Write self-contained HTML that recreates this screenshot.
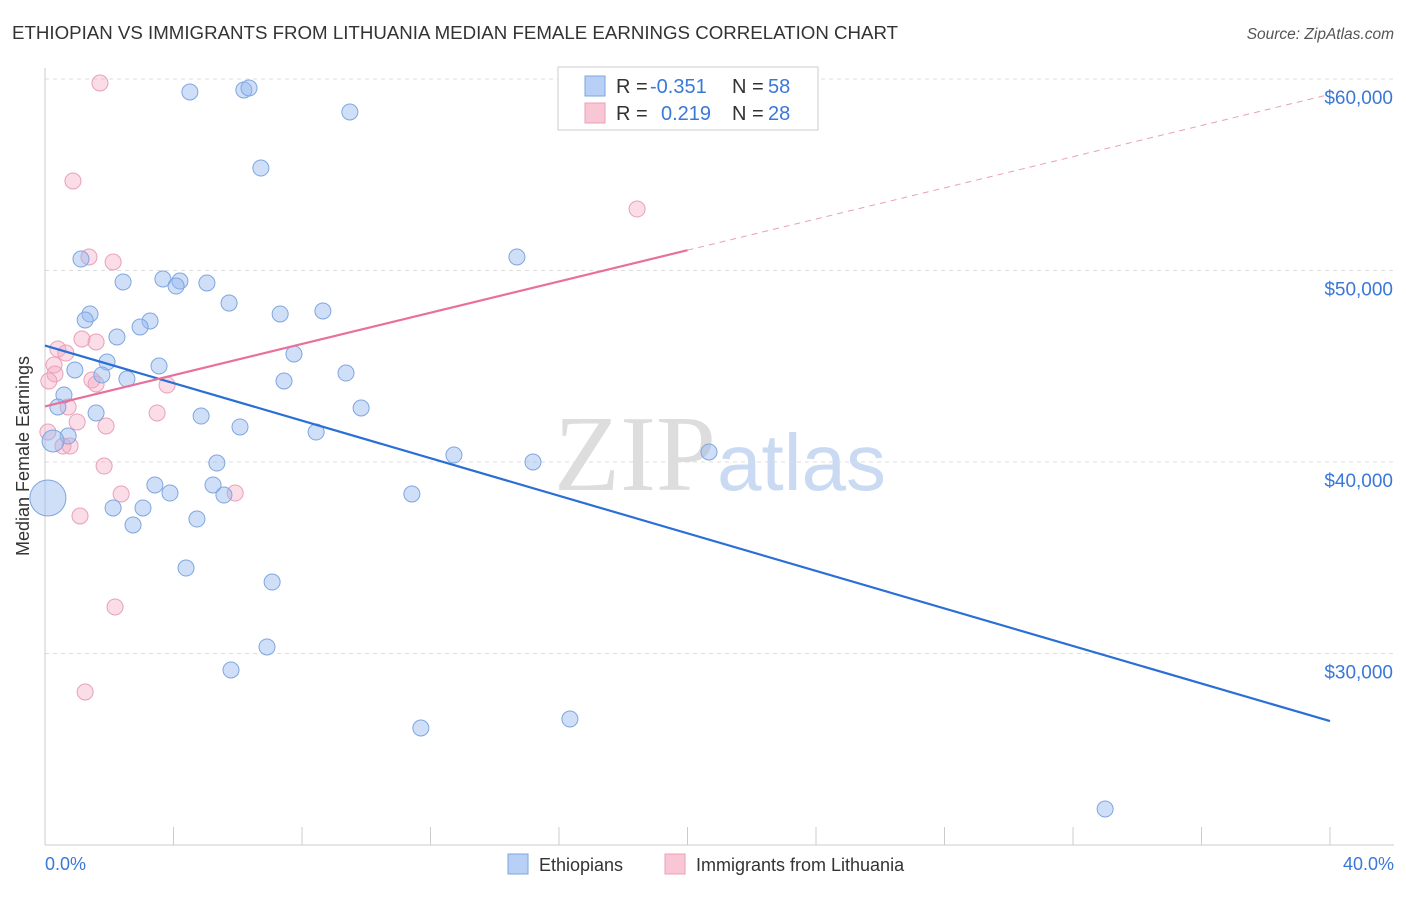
<!DOCTYPE html>
<html><head><meta charset="utf-8"><style>
body{margin:0;background:#fff;font-family:"Liberation Sans",sans-serif;}
</style></head><body>
<svg width="1406" height="892" xmlns="http://www.w3.org/2000/svg" font-family="Liberation Sans, sans-serif">
<text x="12" y="39" font-size="18.7" fill="#333">ETHIOPIAN VS IMMIGRANTS FROM LITHUANIA MEDIAN FEMALE EARNINGS CORRELATION CHART</text>
<text x="1394" y="39" font-size="15.5" fill="#555" font-style="italic" text-anchor="end">Source: ZipAtlas.com</text>
<text x="716" y="490" font-size="108" fill="#ddd" text-anchor="end" font-family="Liberation Serif, serif">ZIP</text>
<text x="717" y="490" font-size="80" fill="#c9daf2">atlas</text>
<g id="grid"></g>
<line x1="45" y1="68" x2="45" y2="845" stroke="#ccc"/>
<line x1="45" y1="845" x2="1394" y2="845" stroke="#ccc"/>
<text x="29" y="456" font-size="18" fill="#333" text-anchor="middle" transform="rotate(-90 29 456)">Median Female Earnings</text>
<text x="45" y="870" font-size="18" fill="#3a78d8">0.0%</text>
<text x="1394" y="870" font-size="18" fill="#3a78d8" text-anchor="end">40.0%</text>
<g id="pts"></g>
<g id="lines"></g>
<g>
<rect x="558" y="67" width="260" height="63" fill="#fff" stroke="#ccc"/>
<rect x="585" y="76" width="20" height="20" fill="#b8d0f5" stroke="#7ea6e0"/>
<rect x="585" y="103" width="20" height="20" fill="#f9c6d6" stroke="#e9a0b8"/>
<text x="616" y="93" font-size="20" fill="#333">R =</text>
<text x="650" y="93" font-size="20" fill="#3a78d8">-0.351</text>
<text x="732" y="93" font-size="20" fill="#333">N =</text>
<text x="768" y="93" font-size="20" fill="#3a78d8">58</text>
<text x="616" y="120" font-size="20" fill="#333">R =</text>
<text x="661" y="120" font-size="20" fill="#3a78d8">0.219</text>
<text x="732" y="120" font-size="20" fill="#333">N =</text>
<text x="768" y="120" font-size="20" fill="#3a78d8">28</text>
</g>
<g>
<rect x="508" y="854" width="20" height="20" fill="#b8d0f5" stroke="#7ea6e0"/>
<text x="539" y="871" font-size="18" fill="#333">Ethiopians</text>
<rect x="665" y="854" width="20" height="20" fill="#f9c6d6" stroke="#e9a0b8"/>
<text x="696" y="871" font-size="18" fill="#333">Immigrants from Lithuania</text>
</g>
</svg>
<script>
const yTicks=[30000,40000,50000,60000];
const yTickLabels=["$30,000","$40,000","$50,000","$60,000"];
const blueX=[4.51,6.19,6.35,9.49,6.72,1.12,14.69,2.43,3.67,4.20,4.08,5.04,5.73,1.40,1.25,7.32,8.65,3.27,2.96,2.24,7.75,1.93,3.55,0.93,9.37,2.55,7.44,0.59,0.40,1.59,4.86,9.84,6.07,8.44,0.72,0.25,12.73,15.19,20.67,5.35,3.42,5.23,3.89,5.57,11.42,0.09,2.12,3.05,4.73,2.74,4.39,7.07,6.91,5.79,11.70,16.34,33.0,1.77];
const blueY=[59321,59426,59530,58277,55352,50600,50705,49400,49556,49452,49190,49347,48300,47730,47415,47730,47885,47363,47050,46527,45640,45222,45013,44804,44647,44333,44230,43500,42872,42560,42400,42820,41830,41566,41357,41096,40365,40000,40522,39947,38800,38800,38380,38276,38329,38120,37600,37600,37023,36710,34464,33733,30340,29138,26110,26580,21880,44545];
const pinkX=[1.71,0.87,1.37,2.12,18.43,1.15,1.59,0.40,0.65,0.28,0.31,0.12,1.46,1.59,3.80,0.72,3.49,1.00,1.90,0.09,0.56,0.78,1.84,2.37,5.92,1.09,2.18,1.25];
const pinkY=[59791,54674,50705,50444,53211,46423,46266,45900,45690,45065,44595,44230,44282,44073,44020,42872,42560,42090,41880,41566,40835,40835,39790,38329,38380,37180,32428,27990];
const blueTrend=[[0,46080],[40,26470]];
const pinkTrend=[[0,42900],[20,51060],[40,59200]];
const NS="http://www.w3.org/2000/svg";
const xs=v=>45+v/40*1285;
const ys=v=>79+(60000-v)/10000*191.5;
function mk(tag,a,parent){const e=document.createElementNS(NS,tag);for(const k in a)e.setAttribute(k,a[k]);parent.appendChild(e);return e;}
const grid=document.getElementById('grid');
yTicks.forEach((t,i)=>{
 const l=mk('line',{x1:45,x2:1394,y1:ys(t),y2:ys(t),stroke:'#ddd','stroke-dasharray':'4,4'},grid);
 
 
 const tx=mk('text',{x:1393,y:ys(t)+25,'font-size':19,fill:'#3a78d8','text-anchor':'end'},grid);
 tx.textContent=yTickLabels[i];
 
 
});
for(let i=0;i<=10;i++){
 const tk=mk('line',{x1:xs(i*4),x2:xs(i*4),y1:827,y2:845,stroke:'#ccc'},grid);
 
 
}
const pts=document.getElementById('pts');
pinkX.forEach((x,i)=>{
 const c=mk('circle',{cx:xs(x),cy:ys(pinkY[i]),r:8,fill:'rgba(245,170,195,0.4)',stroke:'#e9a0b8','stroke-width':1},pts);
 
 
});
blueX.forEach((x,i)=>{
 const r=(i==45)?18:(i==35?11:8);
 const c=mk('circle',{cx:xs(x),cy:ys(blueY[i]),r:r,fill:'rgba(150,185,240,0.45)',stroke:'#7ea6e0','stroke-width':1},pts);
 
 
});
const lines=document.getElementById('lines');
const b=mk('line',{x1:xs(blueTrend[0][0]),y1:ys(blueTrend[0][1]),x2:xs(blueTrend[1][0]),y2:ys(blueTrend[1][1]),stroke:'#2a6fd6','stroke-width':2.2},lines);


const p=mk('line',{x1:xs(pinkTrend[0][0]),y1:ys(pinkTrend[0][1]),x2:xs(pinkTrend[1][0]),y2:ys(pinkTrend[1][1]),stroke:'#e8709a','stroke-width':2.2},lines);


const pd=mk('line',{x1:xs(pinkTrend[1][0]),y1:ys(pinkTrend[1][1]),x2:xs(pinkTrend[2][0]),y2:ys(pinkTrend[2][1]),stroke:'#e8a0b8','stroke-width':1,'stroke-dasharray':'6,5'},lines);


</script>
</body></html>
